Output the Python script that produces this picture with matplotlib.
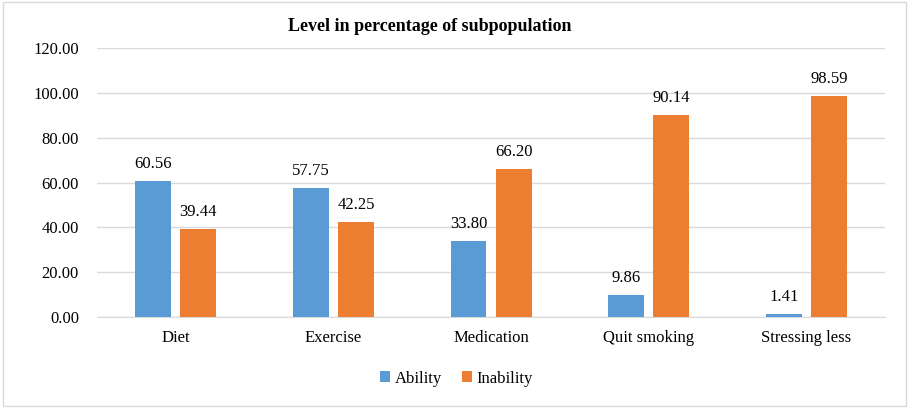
import numpy as np
import matplotlib.pyplot as plt
from matplotlib.patches import Rectangle

categories = ["Diet", "Exercise", "Medication", "Quit smoking", "Stressing less"]
ability = [60.56, 57.75, 33.80, 9.86, 1.41]
inability = [39.44, 42.25, 66.20, 90.14, 98.59]

plt.rcParams["font.family"] = ["Liberation Serif", "DejaVu Serif"]

fig = plt.figure(figsize=(9.09, 4.08), dpi=100)
ax = fig.add_axes([0.1067, 0.223, 0.867, 0.659])

x = np.arange(len(categories))
w = 0.228
off = 0.143
b1 = ax.bar(x - off, ability, w, color="#5B9BD5", label="Ability", zorder=3)
b2 = ax.bar(x + off, inability, w, color="#ED7D31", label="Inability", zorder=3)

for bars, vals in ((b1, ability), (b2, inability)):
    for r, v in zip(bars, vals):
        ax.text(r.get_x() + r.get_width() / 2, v + 4, f"{v:.2f}",
                ha="center", va="bottom", fontsize=12, color="#000000")

ax.set_xlim(-0.5, len(categories) - 0.5)
ax.set_ylim(0, 120)
ax.set_yticks(np.arange(0, 121, 20))
ax.set_yticklabels([f"{t:.2f}" for t in np.arange(0, 121, 20)], fontsize=12)
ax.set_xticks(x)
ax.set_xticklabels(categories, fontsize=12)
ax.tick_params(axis="x", length=0, pad=9)
ax.tick_params(axis="y", length=0, pad=13)
ax.grid(axis="y", color="#D9D9D9", linewidth=1, zorder=0)
for s in ["top", "right", "left"]:
    ax.spines[s].set_visible(False)
ax.spines["bottom"].set_color("#D9D9D9")

fig.text(0.473, 0.936, "Level in percentage of subpopulation", ha="center",
         va="center", fontsize=13, fontweight="bold")

fig.legend(loc="center", bbox_to_anchor=(0.502, 0.072), ncol=2, frameon=False,
           fontsize=12, handlelength=0.6, handleheight=0.6, columnspacing=1.2,
           handletextpad=0.3)

fig.patches.append(Rectangle((0.003, 0.005), 0.994, 0.99, transform=fig.transFigure,
                             fill=False, edgecolor="#D9D9D9", linewidth=1))

fig.savefig("out.png", dpi=100)
